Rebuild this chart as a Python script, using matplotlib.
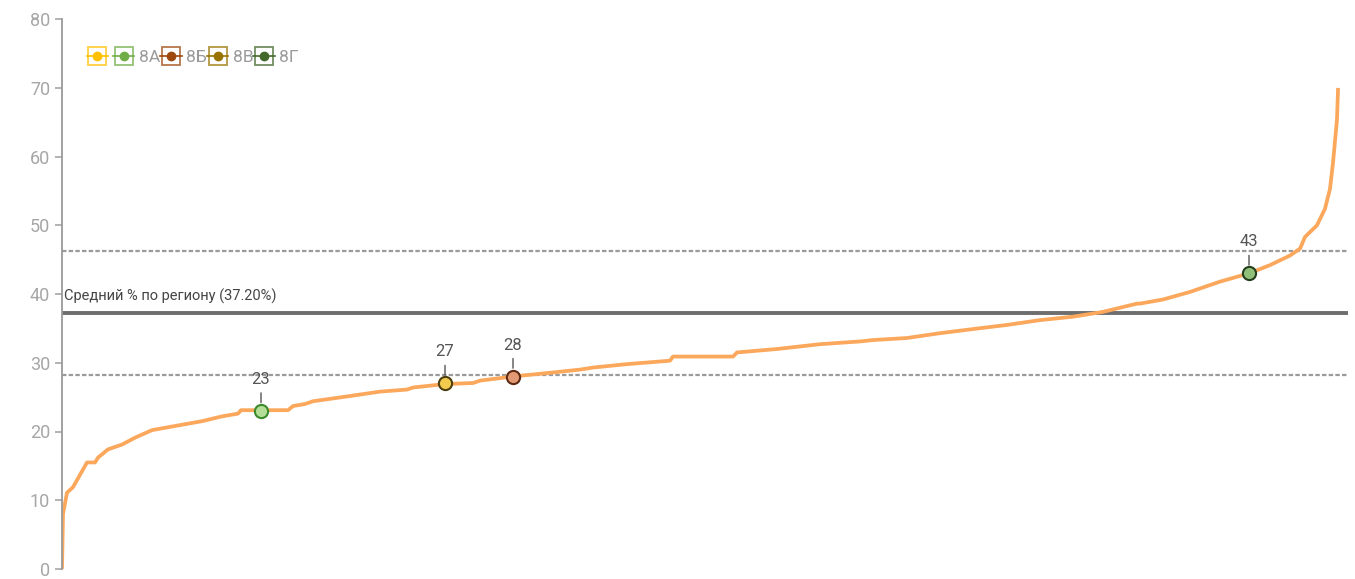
import matplotlib
matplotlib.use('Agg')
import matplotlib.pyplot as plt
from matplotlib.lines import Line2D
from matplotlib.legend_handler import HandlerTuple

plt.rcParams['font.family'] = ['Roboto', 'DejaVu Sans']

# sorted school results (rank, % of tasks solved)
rank = [0, 1, 5, 11, 25, 33, 36, 46, 60, 73, 90, 113, 140, 160, 176, 179, 199,
        226, 231, 243, 251, 285, 318, 345, 351, 383, 411, 418, 451, 485, 518,
        531, 565, 608, 611, 671, 675, 715, 758, 798, 811, 845, 878, 911, 945,
        978, 1011, 1041, 1075, 1078, 1101, 1128, 1158, 1187, 1208, 1228, 1238,
        1243, 1255, 1263, 1268, 1271, 1275, 1276]
percent = [0, 8.0, 11.1, 11.9, 15.5, 15.5, 16.2, 17.4, 18.1, 19.1, 20.2, 20.8,
           21.5, 22.2, 22.6, 23.1, 23.1, 23.1, 23.7, 24.0, 24.4, 25.1, 25.8,
           26.1, 26.4, 26.9, 27.05, 27.4, 28.0, 28.5, 29.0, 29.3, 29.8, 30.3,
           30.9, 30.9, 31.5, 32.0, 32.7, 33.1, 33.3, 33.6, 34.3, 34.9, 35.5,
           36.2, 36.7, 37.4, 38.6, 38.6, 39.2, 40.3, 41.8, 43.0, 44.2, 45.6,
           46.6, 48.3, 50.0, 52.4, 55.3, 59.1, 65.4, 69.7]

region_mean = 37.2
band_low = 28.2
band_high = 46.2

classes = ['8А', '8Б', '8В', '8Г']
class_rank = [199, 451, 383, 1187]
class_value = [23, 28, 27, 43]
class_face = ['#b4de98', '#e39a74', '#f2cb4e', '#8fbf78']
class_edge = ['#3b8a2c', '#5e2a14', '#4d3f10', '#26401f']

legend_colors = ['#ffc000', '#70ad47', '#9e480e', '#997300', '#43682b']
legend_labels = [''] + classes

fig = plt.figure(figsize=(13.55, 5.79), dpi=100)
ax = fig.add_axes([62 / 1355, 10 / 579, 1286 / 1355, 550 / 579])

ax.axhline(band_high, color='#9a9a9a', lw=1.6, ls=(0, (2, 1)), zorder=1)
ax.axhline(band_low, color='#9a9a9a', lw=1.6, ls=(0, (2, 1)), zorder=1)
ax.axhline(region_mean, color='#6e6e6e', lw=2.8, zorder=1)
ax.text(2, region_mean + 1.3, f'Средний % по региону ({region_mean:.2f}%)',
        fontsize=10.5, color='#444444', va='bottom', ha='left')

ax.plot(rank, percent, color='#fba75c', lw=2.7, zorder=2, solid_joinstyle='round')

for x, v, fc, ec in zip(class_rank, class_value, class_face, class_edge):
    ax.plot([x], [v], 'o', ms=9.5, mfc=fc, mec=ec, mew=1.5, zorder=4)
    ax.annotate('', xy=(x, v), xytext=(0, 18), textcoords='offset pixels',
                xycoords='data', zorder=3,
                arrowprops=dict(arrowstyle='-', color='#555555', lw=1,
                                shrinkA=0, shrinkB=6))
    ax.annotate(str(v), xy=(x, v), xytext=(0, 24), textcoords='offset pixels',
                ha='center', va='bottom', fontsize=12, color='#555555')

handles = []
for c in legend_colors:
    box = Line2D([], [], marker='s', ms=13, mfc='white', mec=c, mew=1.3, ls='none', alpha=0.75)
    dot = Line2D([], [], marker='o', ms=6, color=c, lw=1.2)
    handles.append((box, dot))
leg = ax.legend(handles, legend_labels, handler_map={tuple: HandlerTuple(ndivide=1)},
                loc='upper left', bbox_to_anchor=(0.007, 0.972), ncol=5, frameon=False,
                handlelength=1.25, handletextpad=0.25, columnspacing=0.0, fontsize=12.5)
for t in leg.get_texts():
    t.set_color('#9a9a9a')

ax.set_xlim(0, 1286)
ax.set_ylim(0, 80)
ax.set_yticks(range(0, 81, 10))
ax.set_xticks([])
for s in ['top', 'right', 'bottom']:
    ax.spines[s].set_visible(False)
ax.spines['left'].set_color('#9a9a9a')
ax.spines['left'].set_linewidth(1.3)
ax.tick_params(axis='y', colors='#a6a6a6', labelsize=13, length=5, width=1.2)

fig.savefig('out.png', dpi=100)
